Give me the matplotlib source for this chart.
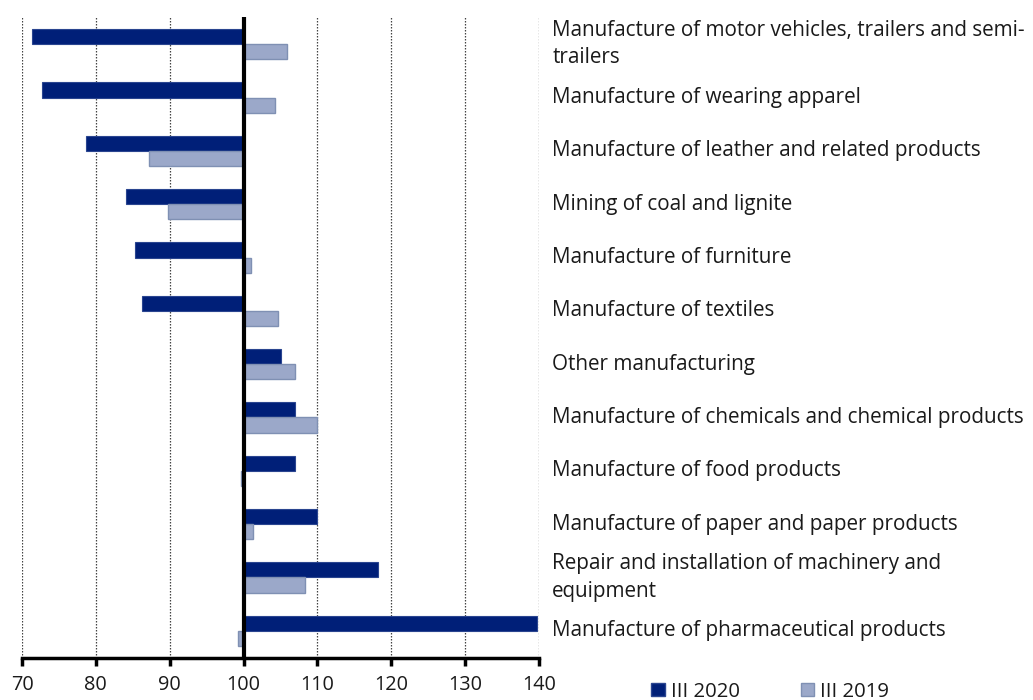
import matplotlib
matplotlib.use("Agg")
import matplotlib.pyplot as plt
import numpy as np

categories = [
    "Manufacture of motor vehicles, trailers and semi-\ntrailers",
    "Manufacture of wearing apparel",
    "Manufacture of leather and related products",
    "Mining of coal and lignite",
    "Manufacture of furniture",
    "Manufacture of textiles",
    "Other manufacturing",
    "Manufacture of chemicals and chemical products",
    "Manufacture of food products",
    "Manufacture of paper and paper products",
    "Repair and installation of machinery and\nequipment",
    "Manufacture of pharmaceutical products",
]
series_2020 = [71.4, 72.7, 78.6, 84.1, 85.3, 86.2, 105.0, 106.9, 107.0, 109.9, 118.2, 139.7]
series_2019 = [105.9, 104.2, 87.2, 89.8, 101.0, 104.6, 107.0, 109.9, 99.7, 101.3, 108.3, 99.2]
series_names = ["III 2020", "III 2019"]
xticks = [70, 80, 90, 100, 110, 120, 130, 140]
baseline = 100

plt.rcParams['font.family'] = ['Open Sans', 'DejaVu Sans']

fig = plt.figure(figsize=(10.33, 7.0), dpi=100)
ax = fig.add_axes([0.0213, 0.06, 0.5005, 0.9157])

dark = "#001F78"
light = "#9BA8C9"
y = np.arange(len(categories))
h = 0.285

v20 = np.array(series_2020) - baseline
v19 = np.array(series_2019) - baseline
ax.barh(y - h / 2, v20, height=h, left=baseline, color=dark, edgecolor="#2a4590", linewidth=0.8, label=series_names[0], zorder=3)
ax.barh(y + h / 2, v19, height=h, left=baseline, color=light, edgecolor="#7f90b3", linewidth=1.0, label=series_names[1], zorder=3)

ax.set_xlim(70, 140)
ax.set_ylim(11.51, -0.51)
ax.set_xticks(xticks)
ax.set_yticks([])
for x in xticks:
    if x != baseline:
        ax.axvline(x, color="#444444", linestyle=(0, (1.2, 1.2)), linewidth=0.9, zorder=1)
ax.axvline(baseline, color="black", linewidth=3, zorder=4)

for s in ["top", "right", "left"]:
    ax.spines[s].set_visible(False)
ax.spines["bottom"].set_linewidth(2.5)
ax.spines["bottom"].set_zorder(5)
ax.tick_params(axis="x", length=6, width=2.5, labelsize=14.3, pad=6, direction="out", labelcolor="#1a1a1a")
ax.set_xlim(70, 140)

for yi, lab in zip(y, categories):
    ax.text(1.0255, yi, lab, transform=ax.get_yaxis_transform(), ha="left", va="center",
            fontsize=14.9, color="#1a1a1a", linespacing=1.4, clip_on=False)

handles = [plt.Rectangle((0, 0), 1, 1, facecolor=dark, edgecolor="#2a4590"),
           plt.Rectangle((0, 0), 1, 1, facecolor=light, edgecolor="#7f90b3")]
leg = fig.legend(handles, series_names, loc="center left", bbox_to_anchor=(0.613, 0.012), ncol=2,
                 frameon=False, fontsize=14.6, handlelength=0.65, handleheight=0.65, handletextpad=0.3,
                 columnspacing=3.0)
for t in leg.get_texts():
    t.set_color("#1a1a1a")

fig.savefig("out.png", dpi=100)
